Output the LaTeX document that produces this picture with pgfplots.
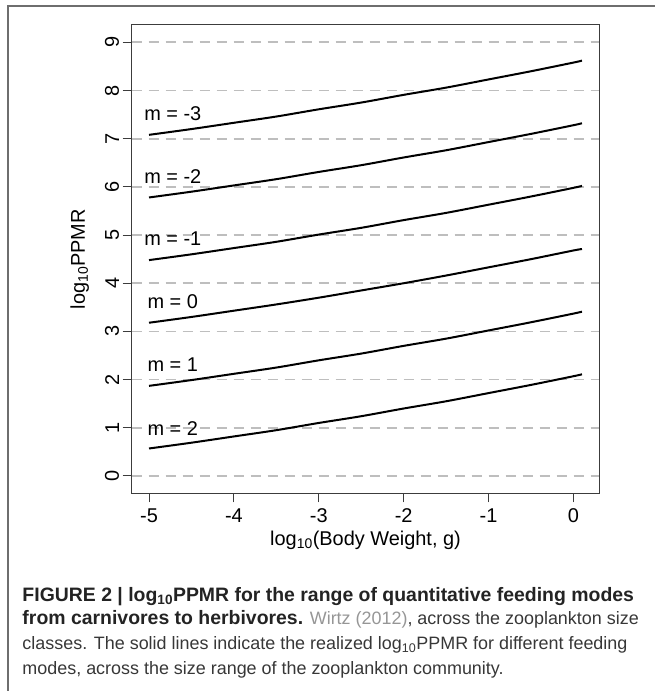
\documentclass[border=0pt]{standalone}
\usepackage{pgfplots}
\pgfplotsset{compat=1.18}
\usepackage{pgfplotstable}
\usepackage{fontspec}
\setmainfont{Liberation Sans}
\definecolor{framegray}{RGB}{110,110,110}
\definecolor{boxgray}{RGB}{60,60,60}
\definecolor{gridgray}{RGB}{190,190,190}
\definecolor{captext}{RGB}{55,55,55}
\definecolor{capbold}{RGB}{35,35,35}
\definecolor{linkgray}{RGB}{150,150,150}

\pgfplotstableread{
x     m3   m2   m1   m0   p1   p2
-5.0  7.08 5.78 4.48 3.18 1.87 0.57
-4.5  7.20 5.90 4.60 3.30 1.99 0.69
-4.0  7.33 6.03 4.73 3.43 2.12 0.82
-3.5  7.46 6.16 4.86 3.56 2.25 0.95
-3.0  7.61 6.31 5.01 3.70 2.40 1.10
-2.5  7.75 6.45 5.15 3.85 2.54 1.24
-2.0  7.91 6.61 5.31 4.00 2.70 1.40
-1.5  8.06 6.76 5.46 4.16 2.85 1.55
-1.0  8.23 6.93 5.63 4.33 3.02 1.72
-0.5  8.40 7.10 5.80 4.50 3.19 1.89
 0.0  8.58 7.28 5.98 4.68 3.37 2.07
 0.1  8.62 7.32 6.02 4.71 3.41 2.11
}\curves

\newcommand\plotfont{\fontsize{20}{24}\selectfont}
\newcommand\capfont{\fontsize{18}{22}\selectfont}
\newcommand\capbf{\fontsize{19.5}{23}\selectfont\bfseries}

\begin{document}
\begin{tikzpicture}[x=1bp,y=1bp]
\path[use as bounding box] (0,0) rectangle (655,691);
\draw[line width=1.3bp, framegray] (8,0) -- (8,685) -- (655,685);
\begin{axis}[
  at={(131.7bp,197.7bp)}, anchor=south west,
  scale only axis, width=467.6bp, height=468.3bp,
  xmin=-5.204, xmax=0.304, ymin=-0.36, ymax=9.36,
  xtick={-5,-4,-3,-2,-1,0}, xticklabels={-5,-4,-3,-2,-1,0},
  ytick={0,1,2,3,4,5,6,7,8,9}, yticklabels={0,1,2,3,4,5,6,7,8,9},
  xtick pos=left, ytick pos=left,
  tick align=outside, major tick length=9bp,
  every tick/.style={boxgray, line width=1bp},
  axis line style={boxgray, line width=1bp},
  tick label style={font=\plotfont},
  xticklabel style={yshift=-3bp},
  yticklabel style={rotate=90, anchor=south, xshift=0bp},
  ymajorgrids, major grid style={gridgray, line width=1.8bp, dash pattern=on 10bp off 7bp},
  xlabel={log\textsubscript{10}(Body Weight, g)},
  ylabel={log\textsubscript{10}PPMR},
  label style={font=\plotfont},
  xlabel style={at={(axis description cs:0.5,0)}, anchor=center, yshift=-47bp},
  ylabel style={at={(axis description cs:0,0.5)}, anchor=center, rotate=0, yshift=52bp},
  clip=false,
]
\addplot[black, line width=2bp, smooth] table[x=x, y=m3] {\curves};
\addplot[black, line width=2bp, smooth] table[x=x, y=m2] {\curves};
\addplot[black, line width=2bp, smooth] table[x=x, y=m1] {\curves};
\addplot[black, line width=2bp, smooth] table[x=x, y=m0] {\curves};
\addplot[black, line width=2bp, smooth] table[x=x, y=p1] {\curves};
\addplot[black, line width=2bp, smooth] table[x=x, y=p2] {\curves};
\node[font=\plotfont] at (axis cs:-4.72,7.51) {m = -3};
\node[font=\plotfont] at (axis cs:-4.72,6.21) {m = -2};
\node[font=\plotfont] at (axis cs:-4.72,4.93) {m = -1};
\node[font=\plotfont] at (axis cs:-4.72,3.62) {m = 0};
\node[font=\plotfont] at (axis cs:-4.72,2.30) {m = 1};
\node[font=\plotfont] at (axis cs:-4.72,0.98) {m = 2};
\end{axis}
\node[anchor=base west, font=\capbf, capbold, inner sep=0pt] at (22.3,89.5)
  {FIGURE 2 | log\textsubscript{10}PPMR for the range of quantitative feeding modes};
\node[anchor=base west, font=\capfont, captext, inner sep=0pt] at (22.3,66)
  {{\capbf\color{capbold}from carnivores to herbivores.} {\color{linkgray}Wirtz (2012)}, across the zooplankton size};
\node[anchor=base west, font=\capfont, captext, inner sep=0pt] at (22.3,41.5)
  {classes. The solid lines indicate the realized log\textsubscript{10}PPMR for different feeding};
\node[anchor=base west, font=\capfont, captext, inner sep=0pt] at (22.3,16)
  {modes, across the size range of the zooplankton community.};
\end{tikzpicture}
\end{document}
